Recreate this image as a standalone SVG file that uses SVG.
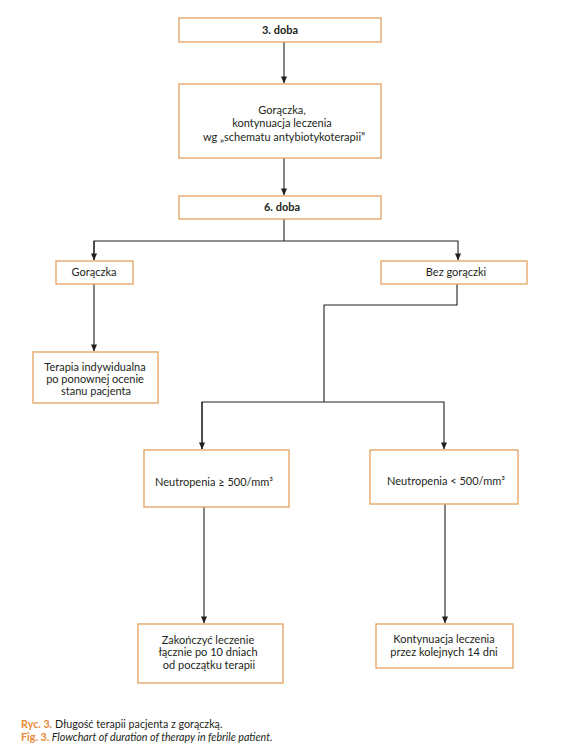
<svg xmlns="http://www.w3.org/2000/svg" width="562" height="752" viewBox="0 0 562 752">
<style>
.box{fill:#fff;stroke:#E2A25E;stroke-width:1.3}
.t{font-family:Lato,"Liberation Sans",sans-serif;font-size:11px;fill:#231f20;text-anchor:middle}
.b{font-weight:bold}
.c{stroke:#231f20;stroke-width:1.1;fill:none}
.cap{font-family:Lato,"Liberation Sans",sans-serif;font-size:10.7px;fill:#231f20}
.o{fill:#E8893A;font-weight:bold}
</style>
<defs>
<marker id="ar" viewBox="0 0 8 8" refX="7.5" refY="4" markerWidth="7" markerHeight="7" markerUnits="userSpaceOnUse" orient="auto">
<path d="M0,0.5 L8,4 L0,7.5 Z" fill="#231f20"/>
</marker>
</defs>
<rect width="562" height="752" fill="#fff"/>
<g id="connectors">
<line class="c" x1="284" y1="42" x2="284" y2="83" marker-end="url(#ar)"/>
<line class="c" x1="284" y1="158" x2="284" y2="195" marker-end="url(#ar)"/>
<polyline class="c" points="284,219 284,241"/>
<polyline class="c" points="94,260 94,241 458,241 458,260" marker-end="url(#ar)"/>
<line class="c" x1="94" y1="241" x2="94" y2="260" marker-end="url(#ar)"/>
<line class="c" x1="94" y1="284" x2="94" y2="351" marker-end="url(#ar)"/>
<polyline class="c" points="457,284 457,305 324,305 324,402"/>
<polyline class="c" points="202,449 202,402 444,402 444,449" marker-end="url(#ar)"/>
<line class="c" x1="202" y1="402" x2="202" y2="449" marker-end="url(#ar)"/>
<line class="c" x1="204" y1="507" x2="204" y2="623" marker-end="url(#ar)"/>
<line class="c" x1="445" y1="504" x2="445" y2="623" marker-end="url(#ar)"/>
</g>
<g id="n1"><rect class="box" x="179" y="18" width="202" height="24"/><text class="t b" x="280" y="34">3. doba</text></g>
<g id="n2"><rect class="box" x="179" y="84" width="202" height="74"/>
<text class="t" x="282" y="114">Gorączka,</text>
<text class="t" x="282" y="127">kontynuacja leczenia</text>
<text class="t" x="284" y="141">wg „schematu antybiotykoterapii”</text></g>
<g id="n3"><rect class="box" x="179" y="196" width="202" height="23"/><text class="t b" x="282" y="211">6. doba</text></g>
<g id="n4"><rect class="box" x="56" y="261" width="77" height="23"/><text class="t" x="94" y="276">Gorączka</text></g>
<g id="n5"><rect class="box" x="381" y="261" width="146" height="23"/><text class="t" x="456" y="276">Bez gorączki</text></g>
<g id="n6"><rect class="box" x="33" y="352" width="125" height="51"/>
<text class="t" x="95" y="371">Terapia indywidualna</text>
<text class="t" x="95" y="383">po ponownej ocenie</text>
<text class="t" x="96" y="395">stanu pacjenta</text></g>
<g id="n7"><rect class="box" x="144" y="450" width="145" height="57"/><text class="t" x="214" y="486">Neutropenia ≥ 500/mm³</text></g>
<g id="n8"><rect class="box" x="370" y="450" width="148" height="54"/><text class="t" x="446" y="485">Neutropenia &lt; 500/mm³</text></g>
<g id="n9"><rect class="box" x="138" y="624" width="145" height="59"/>
<text class="t" x="208" y="644">Zakończyć leczenie</text>
<text class="t" x="208" y="656">łącznie po 10 dniach</text>
<text class="t" x="209" y="669">od początku terapii</text></g>
<g id="n10"><rect class="box" x="376" y="624" width="137" height="44"/>
<text class="t" x="444" y="643">Kontynuacja leczenia</text>
<text class="t" x="444" y="656">przez kolejnych 14 dni</text></g>
<text class="cap" x="21" y="728"><tspan class="o">Ryc. 3.</tspan> Długość terapii pacjenta z gorączką.</text>
<text class="cap" x="21" y="741" font-style="italic"><tspan class="o" font-style="normal">Fig. 3.</tspan> Flowchart of duration of therapy in febrile patient.</text>
</svg>
